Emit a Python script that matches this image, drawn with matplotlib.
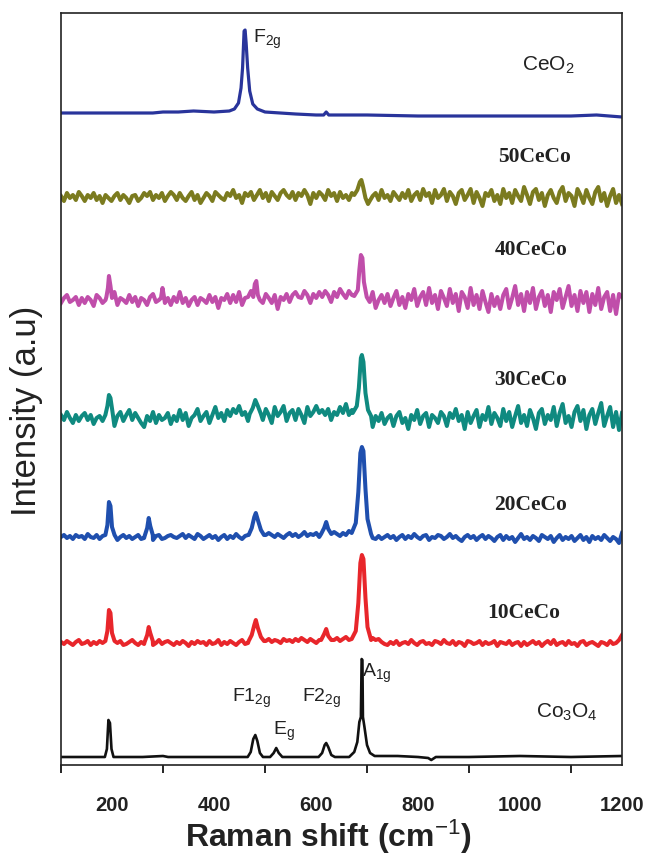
import numpy as np
import matplotlib
matplotlib.use("Agg")
import matplotlib.pyplot as plt

plt.rcParams["mathtext.fontset"] = "custom"
plt.rcParams["mathtext.rm"] = "Liberation Sans"
plt.rcParams["mathtext.it"] = "Liberation Sans:italic"
plt.rcParams["mathtext.bf"] = "Liberation Sans:bold"

# --- data (intensity in arbitrary units, per trace) ---
samples = ["Co$_3$O$_4$", "10CeCo", "20CeCo", "30CeCo", "40CeCo", "50CeCo", "CeO$_2$"]
colors = ["#111111", "#e8262b", "#1f4fae", "#0f8a80", "#c04eaa", "#7b7b1f", "#29349b"]
offsets = [8, 122, 228, 347, 465, 567, 652]

# Co3O4 and CeO2 are smooth traces
co3o4_x = [100, 180, 186, 190, 193, 196, 199, 203, 260, 300, 310, 400, 466, 472, 477, 481,
           485, 490, 496, 510, 517, 522, 527, 534, 605, 612, 617, 620, 624, 630, 637,
           665, 675, 681, 685, 688, 689.5, 691, 692, 695, 700, 706, 715, 760, 800, 820,
           826, 835, 900, 1000, 1100, 1200]
co3o4_y = [0, 0, 0, 8, 37, 34, 8, 0, 0, 1, 0, 0, 0, 5, 18, 22,
           16, 4, 0, 0, 4, 9, 4, 0, 0, 4, 12, 14, 10, 2, 0,
           0, 5, 15, 35, 40, 98, 97, 40, 30, 12, 4, 1, 1, 0, -1,
           -3, 0, 0, 1, 0, 1]

ceo2_x = [100, 200, 280, 300, 330, 360, 400, 430, 440, 448, 453, 456, 459, 461, 463, 466,
          470, 476, 485, 500, 530, 560, 600, 615, 620, 625, 640, 700, 800, 900, 1000,
          1100, 1150, 1200]
ceo2_y = [0, 0, 0, 1, 1, 2, 1, 2, 4, 10, 25, 45, 82, 83, 70, 45,
          22, 9, 4, 1, 0, -1, -2, -2, 1, -2, -2, -2, -3, -3, -3,
          -3, -2, -4]

# noisy traces: noise read as evenly spaced samples + peaks as (shift, intensity) points
noise_10 = [1, -1, 2, 0, -2, 1, 3, -1, 0, 2, -2, 1, -1, 2, 0, -3, 1, 2, -1, 0,
            2, -2, -1, 1, 3, 0, -2, 1, -1, 2, 1, -2, 0, 3, -1, 1, 2, 0, -2, 1,
            -1, 2, 0, -3, 1, -1, 2, 0, 1, -2, 2, -1, 0, 3, -2, 1, -1, 2, 0, -2,
            1, 3, -1, 0, 2, -1, 1, 3, 0, 2, 4, 1, 3, 2, 0, 4, 2, 3, 1, 4,
            2, 5, 3, 1, 4, 2, 0, 3, 5, 2, 4, 1, 3, 5, 2, 4, 6, 3, 4, 2,
            5, 3, 6, 4, 2, 5, 3, 4, 1, -1, -2, 1, -1, 2, -2, 0, 1, -1, 3, 0,
            -2, 1, 2, -1, 0, -2, 2, 1, -1, 3, 0, -1, 2, -2, 1, 0, -3, 2, 1, -1,
            0, 2, -2, 1, -1, 0, 2, -3, 1, 0, -1, 2, -2, 0, 1, -3, 1, -2, 0, 2,
            -1, 1, -3, 0, 2, -1, 3, -2, 0, 1, -2, 2, -1, 0, -3, 1, 2, -2, 0, 1,
            -1, -3, 1, 0, -2, 2, -1, 0, 3, 8]
peaks_10 = [[(187, 2), (191, 12), (194, 33), (197, 30), (200, 10), (205, 2)],
            [(264, 1), (269, 8), (272, 16), (275, 10), (280, 2)],
            [(468, 2), (474, 8), (479, 18), (482, 23), (486, 15), (492, 6), (498, 2)],
            [(610, 3), (616, 9), (620, 14), (624, 7), (630, 3)],
            [(670, 4), (678, 12), (683, 40), (687, 80), (690, 88), (693, 84), (697, 45),
             (701, 16), (708, 3)]]

noise_20 = [0, 2, -1, 1, -2, 2, 0, 1, -2, 3, 0, -1, 2, -2, 1, 0, 2, -1, 1, -3,
            0, 2, -1, 1, -2, 0, 2, -2, -1, 1, 0, -3, 1, 2, -2, -1, 1, 2, 0, -1,
            1, 3, -1, 2, 0, -2, 3, 1, -2, 0, 2, -1, 1, -3, 0, 2, -2, 1, -1, 3,
            0, -2, 1, 2, -1, 0, 3, 1, -1, 2, 4, 2, 0, 3, 1, -1, 2, 4, 1, 3,
            0, 2, 5, 1, 3, 2, 4, 0, 3, 1, 4, 2, 5, 3, 1, 4, 2, 6, 3, 4,
            5, 2, 4, 3, 1, -1, -2, 1, -2, 0, 2, -1, 1, -3, 0, 2, -2, 1, -1, 3,
            0, -2, 1, 2, -3, 0, -1, 2, 1, -2, 0, 3, -1, 1, -2, -4, 0, 2, -1, 1,
            -3, 0, 2, -2, 1, -1, -4, 0, 2, -3, 1, -2, 0, -5, -1, 3, -2, 0, -3, 1,
            -1, -4, 2, 0, -2, 1, -5, -1, 2, -3, 0, -2, 1, -4, -1, 2, -3, 0, -5, 1,
            -2, 0, -3, 2, -1, -4, 0, -2, -6, 4]
peaks_20 = [[(187, 2), (191, 12), (194, 35), (197, 31), (200, 10), (205, 2)],
            [(264, 1), (269, 9), (272, 19), (275, 11), (280, 2)],
            [(468, 2), (474, 9), (479, 20), (482, 24), (486, 17), (492, 7), (498, 2)],
            [(610, 3), (616, 9), (620, 15), (624, 8), (630, 3)],
            [(670, 4), (678, 14), (683, 45), (687, 84), (690, 90), (693, 86), (697, 48),
             (701, 18), (708, 3)]]

noise_30 = [3, -2, 6, 0, -5, 3, -3, 2, 5, -2, 3, -6, 0, 2, -3, 5, -5, 0, -8, 2,
            6, -3, 3, 8, -2, 5, 0, -5, -9, 2, -3, 6, -5, 3, -2, 0, 5, -6, 2, -3,
            8, -2, 5, -8, 0, 3, 9, -3, 2, 6, -5, 3, 11, 0, 5, -3, 8, 2, 9, 5,
            12, 3, 6, -3, 8, 0, -6, 5, -2, 9, 3, -5, 11, 2, 6, 12, -3, 5, 8, -2,
            9, 3, -5, 11, 2, 6, 12, 5, 8, 3, 9, -2, 6, 3, 11, 5, 14, 3, 8, 2,
            -6, -9, 0, -5, 3, -9, 2, -3, 5, -6, 0, 3, -8, 2, 6, -5, 0, -11, 3, -2,
            8, -6, 2, 5, -9, 3, 0, -5, 6, 2, -8, 5, 0, 9, -3, 3, -11, 6, -5, 2,
            8, -9, 3, -2, 11, -6, 5, 0, -8, 9, -3, 6, -9, 2, 12, -5, 3, -8, 8, 0,
            -11, 5, 9, -6, 3, -2, 11, -8, 5, 14, -5, 2, -9, 6, 12, -3, 8, -11, 3, 9,
            -6, 5, 15, -8, 2, 11, -9, 6, -12, 5]
peaks_30 = [[(187, 3), (191, 12), (194, 23), (197, 20), (201, 6)],
            [(470, 4), (476, 10), (481, 18), (486, 12), (492, 4)],
            [(672, 5), (680, 12), (684, 30), (688, 60), (690, 63), (693, 56), (697, 25),
             (702, 8), (708, 2)]]

noise_40 = [-3, 2, 5, -2, 0, 3, -5, 2, -3, 3, 0, -6, 5, 2, -3, 0, 3, -2, 8, -5,
            2, 0, -3, 5, -2, 3, -6, 2, 0, -5, 3, 6, -2, 0, 5, -3, 2, -5, 3, -2,
            8, -3, 2, -6, 0, 3, -5, 2, 0, -3, 5, -2, 3, -8, 2, 0, 6, -3, 5, -2,
            8, -5, 2, 3, 9, -2, 5, 0, -3, 6, 2, -3, 5, -9, 3, 0, 6, -2, 5, 8,
            3, 2, 9, 5, -3, 6, 2, 8, 3, 9, 5, -2, 8, 3, 11, 6, 2, 9, 5, -3,
            -6, 2, -5, 3, -2, 8, -8, 0, 5, -3, 6, -6, 2, 9, -5, 3, -8, 6, 0, 11,
            -6, 3, 8, -5, 12, -3, 5, -9, 9, 2, -6, 11, -3, 6, -11, 8, 3, -8, 12, -5,
            5, -9, 9, -2, -12, 6, -6, 3, -9, 5, 11, -8, 2, 14, -5, 6, -11, 8, -3, 12,
            -9, 3, 9, -6, 5, -12, 8, 0, 11, -8, 3, 14, -6, 5, -11, 9, -3, 8, -12, 6,
            -5, 12, -9, 3, 8, -11, 5, -14, 6, 3]
peaks_40 = [[(189, 3), (192, 12), (194, 24), (197, 14), (200, 2)],
            [(296, 2), (299, 12), (302, 3)],
            [(477, 3), (480, 16), (483, 19), (486, 5)],
            [(675, 4), (682, 10), (685, 30), (688, 45), (691, 42), (694, 18), (699, 4)]]

noise_50 = [2, -3, 5, 0, 3, -2, 6, 2, -3, 3, 0, 5, -2, 2, -5, 3, 0, -3, 2, 5,
            -2, 3, 0, -5, 2, 3, -3, 0, 5, 2, 6, -2, 3, 0, 5, -3, 2, 6, 3, -2,
            5, 0, -3, 2, 6, -2, 3, -5, 0, 5, 2, -3, 6, 3, 0, -2, 5, 2, 8, 0,
            3, -5, 5, 2, 6, -2, 3, 8, 0, 5, -3, 6, 2, -2, 5, 8, 3, 0, 6, -2,
            5, 2, 8, 3, -6, 5, 0, 6, 3, -2, 8, 2, 5, -3, 6, 0, 3, -2, 5, 2,
            -5, 3, -2, 6, -3, 2, 5, -2, 8, 0, 3, -3, 6, 2, -2, 5, 0, 8, -3, 3,
            6, -2, 9, 2, 5, -5, 8, 0, 3, 9, -3, 6, 2, -6, 5, 8, -2, 3, 9, -5,
            6, 0, -8, 5, 2, 8, -3, 3, -6, 9, 0, 5, -5, 8, 2, -3, 11, 3, -6, 6,
            9, -2, 5, -8, 3, 8, 0, -5, 6, 11, -3, 5, 2, -8, 9, 3, -5, 8, 0, -6,
            6, 11, -3, 5, -8, 2, 9, -5, 3, -6]
peaks_50 = [[(675, 3), (681, 8), (686, 16), (689, 18), (692, 12), (697, 0), (702, -6)]]

# label positions (Raman shift, height)
sample_label_xy = [(1091, 53), (1008, 152), (1021, 260), (1021, 385), (1021, 515), (1029, 608), (1055, 700)]
mode_labels = ["F$_\\mathregular{2g}$", "F1$_\\mathregular{2g}$", "E$_\\mathregular{g}$",
               "F2$_\\mathregular{2g}$", "A$_\\mathregular{1g}$"]
mode_label_xy = [(476, 722), (435, 63), (515, 30), (572, 63), (691, 88)]

tick_vals = [200, 400, 600, 800, 1000, 1200]
minor_vals = [100, 300, 500, 700, 900, 1100]


def build(noise, peaks):
    x = np.linspace(100, 1200, len(noise))
    y = np.asarray(noise, dtype=float)
    keep = np.ones(len(x), dtype=bool)
    px, py = [], []
    for pk in peaks:
        xs = [p[0] for p in pk]
        ys = [p[1] for p in pk]
        keep &= ~((x >= min(xs)) & (x <= max(xs)))
        px += xs
        py += ys
    xx = np.concatenate([x[keep], px])
    yy = np.concatenate([y[keep], py])
    order = np.argsort(xx)
    return xx[order], yy[order]


traces = [(np.array(co3o4_x, float), np.array(co3o4_y, float)),
          build(noise_10, peaks_10),
          build(noise_20, peaks_20),
          build(noise_30, peaks_30),
          build(noise_40, peaks_40),
          build(noise_50, peaks_50),
          (np.array(ceo2_x, float), np.array(ceo2_y, float))]
widths = [1.9, 2.9, 2.9, 2.9, 2.9, 2.9, 2.3]

fig = plt.figure(figsize=(6.51, 8.58), dpi=100)
ax = fig.add_axes([61 / 651, 93 / 858, 561 / 651, 752 / 858])

for (x, y), off, c, lw in zip(traces, offsets, colors, widths):
    ax.plot(x, y + off, color=c, lw=lw)

ax.set_xlim(100, 1200)
ax.set_ylim(0, 752)
ax.set_yticks([])
ax.set_xticks(tick_vals)
ax.set_xticklabels([str(v) for v in tick_vals], fontsize=14.5, fontweight="bold",
                   family="Liberation Sans", color="#222222")
ax.set_xticks(minor_vals, minor=True)
ax.tick_params(axis="x", which="major", length=0, pad=22)
ax.tick_params(axis="x", which="minor", length=6, width=1.2, direction="out")
for s in ax.spines.values():
    s.set_linewidth(1.2)
    s.set_color("#222222")

for lab, (lx, ly) in zip(samples, sample_label_xy):
    if "$" in lab:
        ax.text(lx, ly, lab, ha="center", va="center", fontsize=15,
                family="Liberation Sans", color="#222222")
    else:
        ax.text(lx, ly, lab, ha="center", va="center", fontsize=15.5, fontweight="bold",
                family="Liberation Serif", color="#222222")

for lab, (lx, ly) in zip(mode_labels, mode_label_xy):
    ax.text(lx, ly, lab, ha="left", va="baseline", fontsize=14,
            family="Liberation Sans", color="#222222")

fig.text(328 / 651, 1 - 837 / 858, "Raman shift (cm$^{-1}$)", ha="center", va="center",
         fontsize=23, fontweight="bold", family="Liberation Sans", color="#222222")
fig.text(27 / 651, 1 - 411 / 858, "Intensity (a.u)", ha="center", va="center",
         rotation=90, fontsize=25, family="Liberation Sans", color="#222222")

fig.savefig("out.png", dpi=100)
